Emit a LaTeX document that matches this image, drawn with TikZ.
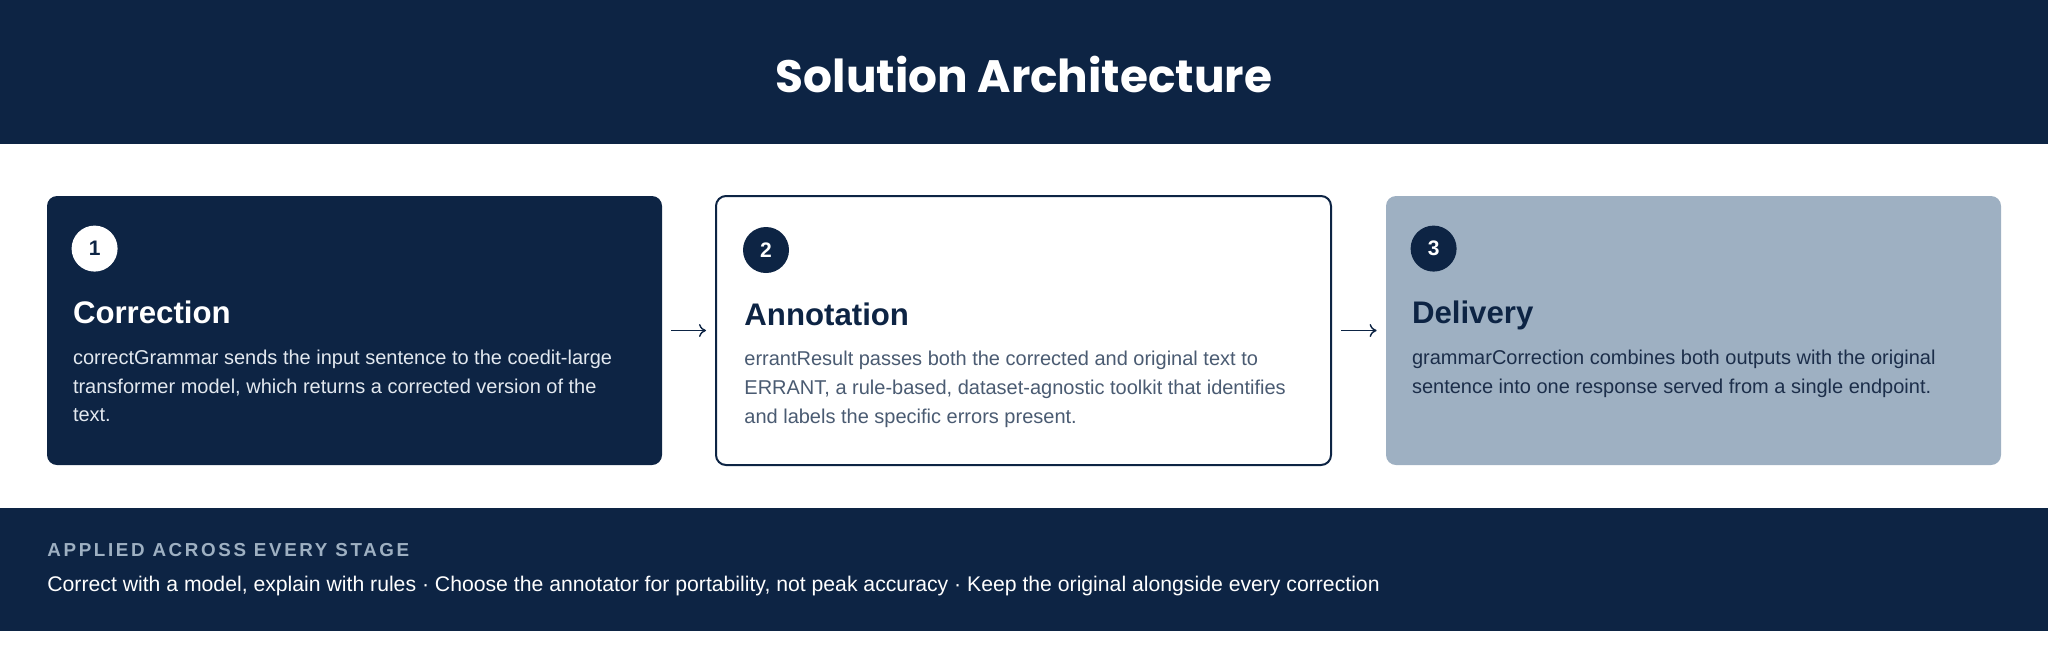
\documentclass[tikz,border=0pt]{standalone}
\usepackage{fontspec}
\setmainfont{Liberation Sans}
\newfontfamily\titlefont{Poppins}
\newfontfamily\capsfont[LetterSpace=14]{Liberation Sans}
\usetikzlibrary{positioning,arrows.meta}
\definecolor{navy}{HTML}{0D2444}
\definecolor{slate}{HTML}{9EB0C2}
\definecolor{paletext}{HTML}{E2E8EF}
\definecolor{midtext}{HTML}{4A5B72}
\definecolor{darktext}{HTML}{1C2E4A}
\tikzset{card/.style={rectangle,rounded corners=5pt,minimum width=307.5pt,minimum height=134.5pt,inner sep=0pt},
         numdot/.style={circle,minimum size=23pt,inner sep=0pt,font=\fontsize{10.5pt}{10.5pt}\selectfont\bfseries},
         heading/.style={inner sep=0pt,anchor=base west,font=\fontsize{15.6pt}{18pt}\selectfont\bfseries},
         body/.style={inner sep=0pt,align=left,font=\fontsize{10pt}{14.35pt}\selectfont},
         stage arrow/.style={-{Computer Modern Rightarrow[length=3.5pt,width=6.5pt]},line width=0.7pt,draw=navy,shorten <=4.5pt,shorten >=4.5pt}
}

\begin{document}
\begin{tikzpicture}[x=0.5pt,y=-0.5pt]
\useasboundingbox (0,0) rectangle (2048,649);

% header and footer bands
\fill[navy] (0,0) rectangle (2048,144);
\fill[navy] (0,508) rectangle (2048,631);
\node[inner sep=0pt,text=white,font=\titlefont\fontsize{22.7pt}{26pt}\selectfont\bfseries] (title) at (1024,74) {Solution Architecture};

% stage cards
\node[card,fill=navy] (corr) at (354.5,330.5) {};
\node[card,fill=white,draw=navy,line width=1pt] (anno) at (1023.5,330.5) {};
\node[card,fill=slate] (deliv) at (1693.5,330.5) {};

\node[numdot,fill=white,text=navy] (corrnum) at ([shift={(48,53)}]corr.north west) {1};
\node[heading,text=white] (corrhead) at ([shift={(26,128)}]corr.north west) {Correction};
\node[body,text=paletext,below=13pt of corrhead.base west,anchor=north west] (corrtext)
  {correctGrammar sends the input sentence to the coedit-large\\transformer model, which returns a corrected version of the\\text.};

\node[numdot,fill=navy,text=white] (annonum) at ([shift={(51,55)}]anno.north west) {2};
\node[heading,text=navy] (annohead) at ([shift={(29,130)}]anno.north west) {Annotation};
\node[body,text=midtext,below=13pt of annohead.base west,anchor=north west] (annotext)
  {errantResult passes both the corrected and original text to\\ERRANT, a rule-based, dataset-agnostic toolkit that identifies\\and labels the specific errors present.};

\node[numdot,fill=navy,text=white] (delivnum) at ([shift={(48,53)}]deliv.north west) {3};
\node[heading,text=navy] (delivhead) at ([shift={(26,128)}]deliv.north west) {Delivery};
\node[body,text=darktext,below=13pt of delivhead.base west,anchor=north west] (delivtext)
  {grammarCorrection combines both outputs with the original\\sentence into one response served from a single endpoint.};

\draw[stage arrow] (corr) -- (anno);
\draw[stage arrow] (anno) -- (deliv);

% principles strip
\node[inner sep=0pt,anchor=west,text=slate,font=\capsfont\fontsize{9.4pt}{11pt}\selectfont\bfseries] (applied) at (47,550) {APPLIED ACROSS EVERY STAGE};
\node[inner sep=0pt,anchor=west,text=white,font=\fontsize{10.6pt}{12pt}\selectfont] (rules) at (47,586)
  {Correct with a model, explain with rules · Choose the annotator for portability, not peak accuracy · Keep the original alongside every correction};
\end{tikzpicture}
\end{document}
